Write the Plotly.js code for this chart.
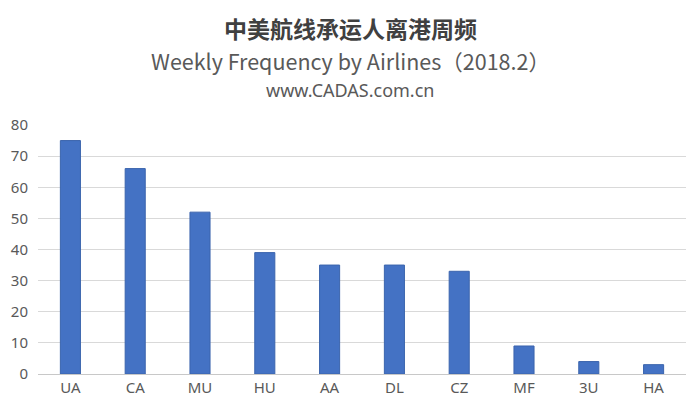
<!DOCTYPE html>
<html>
<head>
<meta charset="utf-8">
<script src="https://cdn.plot.ly/plotly-3.0.1.min.js"></script>
<style>
  html, body { margin: 0; padding: 0; background: #fff; }
  #chart { width: 700px; height: 406px; }
</style>
</head>
<body>
<div id="chart"></div>
<script>
// 航司代码 & 每周频次
const airlines = ["UA", "CA", "MU", "HU", "AA", "DL", "CZ", "MF", "3U", "HA"];
const weeklyFreq = [75, 66, 52, 39, 35, 35, 33, 9, 4, 3];
const yTicks = [0, 10, 20, 30, 40, 50, 60, 70, 80];

const textGrey = "#595959";
// 标题居中于整张图（绘图区 l=38, 宽 648）
const midX = (350 - 38) / 648;

const trace = {
  type: "bar",
  x: airlines,
  y: weeklyFreq,
  marker: { color: "#4472c4", line: { color: "#3b64ad", width: 1 } },
  hoverinfo: "x+y"
};

const layout = {
  width: 700,
  height: 406,
  margin: { l: 38, r: 14, t: 125, b: 32 },
  paper_bgcolor: "#fff",
  plot_bgcolor: "#fff",
  showlegend: false,
  bargap: 0.69,
  font: { family: "'Noto Sans CJK SC', 'Noto Sans', sans-serif", color: textGrey },
  xaxis: {
    type: "category",
    showgrid: false,
    showline: true,
    linecolor: "#c8c8c8",
    linewidth: 1,
    ticks: "",
    tickfont: { size: 15, color: textGrey, family: "'Noto Sans', sans-serif" },
    fixedrange: true
  },
  yaxis: {
    range: [0, 80],
    tickvals: yTicks,
    showgrid: true,
    gridcolor: "#d9d9d9",
    gridwidth: 1,
    zeroline: false,
    showline: false,
    ticks: "",
    ticklabelstandoff: 9,
    tickfont: { size: 15, color: textGrey, family: "'Noto Sans', sans-serif" },
    fixedrange: true
  },
  annotations: [
    {
      text: "<b>中美航线承运人离港周频</b>",
      xref: "paper", yref: "paper", x: midX, y: 1,
      xanchor: "center", yanchor: "middle",
      yshift: 97,
      showarrow: false,
      font: { size: 23, color: "#404040", family: "'Noto Sans CJK SC', sans-serif" }
    },
    {
      text: "Weekly Frequency by Airlines（2018.2）",
      xref: "paper", yref: "paper", x: midX, y: 1,
      xanchor: "center", yanchor: "middle",
      yshift: 65,
      showarrow: false,
      font: { size: 21.5, color: textGrey, family: "'Noto Sans CJK SC', sans-serif" }
    },
    {
      text: "www.CADAS.com.cn",
      xref: "paper", yref: "paper", x: midX, y: 1,
      xanchor: "center", yanchor: "middle",
      yshift: 35,
      showarrow: false,
      font: { size: 18, color: textGrey, family: "'Noto Sans', sans-serif" }
    }
  ]
};

Plotly.newPlot("chart", [trace], layout, { displayModeBar: false, staticPlot: true });
</script>
</body>
</html>
